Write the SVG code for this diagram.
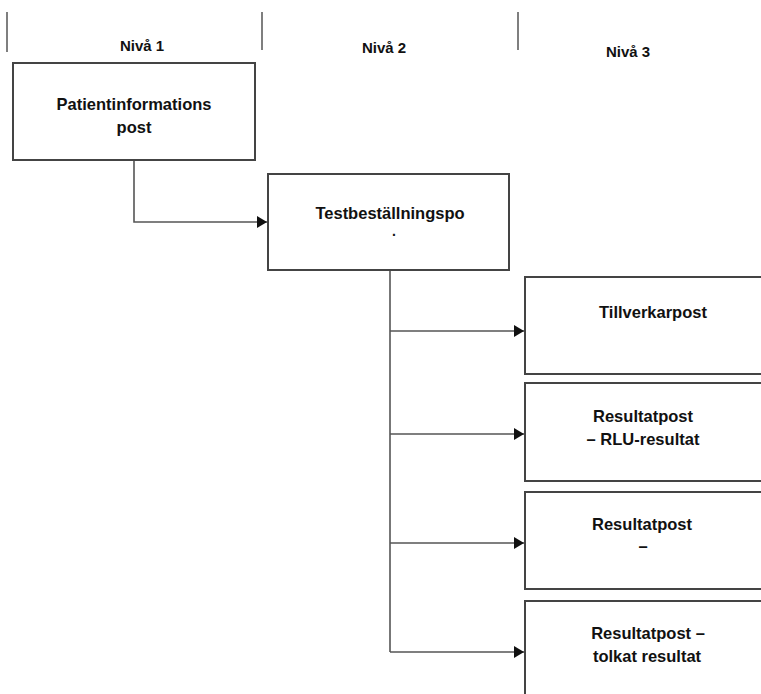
<svg xmlns="http://www.w3.org/2000/svg" width="761" height="694" viewBox="0 0 761 694">
<style>
.box{fill:#fff;stroke:#444;stroke-width:2}
.ln{fill:none;stroke:#555;stroke-width:1.6}
.hd{fill:none;stroke:#555;stroke-width:1.5}
text{font-family:"Liberation Sans",Arial,sans-serif;font-weight:bold;font-size:16.5px;fill:#111;text-anchor:middle}
.sm{font-size:15px}
</style>
<defs>
<marker id="arr" markerWidth="11" markerHeight="12" refX="10" refY="6" orient="auto" markerUnits="userSpaceOnUse">
<path d="M0,0 L10,6 L0,12 Z" fill="#111"/>
</marker>
</defs>
<g id="header">
<line class="hd" x1="7" y1="12" x2="7" y2="52"/>
<line class="hd" x1="262" y1="12" x2="262" y2="50"/>
<line class="hd" x1="518" y1="12" x2="518" y2="50"/>
<text class="sm" x="142" y="51">Nivå 1</text>
<text class="sm" x="384" y="53">Nivå 2</text>
<text class="sm" x="628" y="57">Nivå 3</text>
</g>
<g id="connectors">
<path class="ln" d="M134,160 V222 H267" marker-end="url(#arr)"/>
<path class="ln" d="M390,270 V652"/>
<path class="ln" d="M390,331 H524" marker-end="url(#arr)"/>
<path class="ln" d="M390,434 H524" marker-end="url(#arr)"/>
<path class="ln" d="M390,543 H524" marker-end="url(#arr)"/>
<path class="ln" d="M390,652 H524" marker-end="url(#arr)"/>
</g>
<g id="n1">
<rect class="box" x="13" y="63" width="242" height="97"/>
<text x="134" y="110">Patientinformations</text>
<text x="134" y="133">post</text>
</g>
<g id="n2">
<rect class="box" x="268" y="174" width="241" height="96"/>
<text x="390" y="219">Testbeställningspo</text>
<text x="394" y="236" style="font-size:14px">.</text>
</g>
<g id="n3">
<rect class="box" x="525" y="277" width="245" height="97"/>
<text x="653" y="318">Tillverkarpost</text>
</g>
<g id="n4">
<rect class="box" x="525" y="383" width="245" height="98"/>
<text x="643" y="422">Resultatpost</text>
<text x="643" y="445">– RLU-resultat</text>
</g>
<g id="n5">
<rect class="box" x="525" y="492" width="245" height="97"/>
<text x="642" y="530">Resultatpost</text>
<text x="643" y="552">–</text>
</g>
<g id="n6">
<rect class="box" x="525" y="601" width="245" height="100"/>
<text x="648" y="639">Resultatpost –</text>
<text x="647" y="662">tolkat resultat</text>
</g>
</svg>
